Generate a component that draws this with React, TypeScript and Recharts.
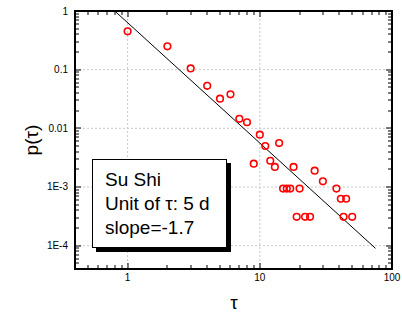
import { ReferenceLine, Scatter, ScatterChart, XAxis, YAxis } from 'recharts';

// waiting-time distribution, tau in units of 5 days
const tau = [1, 2, 3, 4, 5, 6, 7, 8, 9, 10, 11, 12, 13, 14, 15, 16, 17, 18, 19, 20, 22, 24, 26, 30, 38, 41, 43, 45, 50];
const prob = [
  0.45, 0.25, 0.105, 0.053, 0.032, 0.038, 0.0145, 0.0127, 0.0025, 0.0078, 0.005, 0.0028, 0.0022, 0.0056, 0.00094,
  0.00094, 0.00094, 0.0022, 0.00031, 0.00094, 0.00031, 0.00031, 0.0019, 0.00125, 0.00094, 0.00063, 0.00031, 0.00063,
  0.00031,
];

// fitted power law (drawn end to end)
const fitTau = [0.8, 75];
const fitProb = [1, 9e-5];

const xMajor = [1, 10, 100];
const xMajorLabels = ['1', '10', '100'];
const yMajor = [1e-4, 1e-3, 0.01, 0.1, 1];
const yMajorLabels = ['1E-4', '1E-3', '0.01', '0.1', '1'];

const X_DOMAIN: [number, number] = [0.4, 100];
const Y_DOMAIN: [number, number] = [4e-5, 1];

const FONT = '"Liberation Sans", Arial, sans-serif';
const W = 402;
const H = 315;
const Y_AXIS_W = 75;
const X_AXIS_H = 46;
const MARGIN = { top: 11, right: 10, bottom: 0, left: 0 };
// plot rectangle implied by the margins and axis sizes
const PX0 = MARGIN.left + Y_AXIS_W;
const PX1 = W - MARGIN.right;
const PY0 = MARGIN.top;
const PY1 = H - MARGIN.bottom - X_AXIS_H;

const points = tau.map((t, i) => ({ t, p: prob[i] }));
const fitLine = fitTau.map((t, i) => ({ t, p: fitProb[i] }));

function logTicks([lo, hi]: [number, number]) {
  const out: number[] = [];
  for (let e = -6; e <= 3; e++) {
    for (let m = 1; m < 10; m++) {
      const v = m * Math.pow(10, e);
      if (v >= lo * 0.999 && v <= hi * 1.001) out.push(v);
    }
  }
  return out;
}

const majorIndex = (v: number, majors: number[]) =>
  majors.findIndex((m) => Math.abs(Math.log10(m) - Math.log10(v)) < 1e-6);

const logPos = (v: number, [lo, hi]: [number, number], a: number, b: number) =>
  a + ((Math.log10(v) - Math.log10(lo)) / (Math.log10(hi) - Math.log10(lo))) * (b - a);

const XTick = (props: any) => {
  const { x, y, payload } = props;
  const idx = majorIndex(payload.value, xMajor);
  if (idx < 0) return <g />;
  return (
    <text x={x} y={y + 4} dy="0.75em" textAnchor="middle" fontSize={10} fill="#000" fontFamily={FONT}>
      {xMajorLabels[idx]}
    </text>
  );
};

const YTick = (props: any) => {
  const { x, y, payload } = props;
  const idx = majorIndex(payload.value, yMajor);
  if (idx < 0) return <g />;
  return (
    <text x={x - 7} y={y} dy="0.35em" textAnchor="end" fontSize={10} fill="#000" fontFamily={FONT}>
      {yMajorLabels[idx]}
    </text>
  );
};

// box frame and inward ticks on all four sides, drawn as filled bars
function renderFrame(xTicks: number[], yTicks: number[]) {
  const t = 2;
  return (
    <g>
      {xTicks.map((v) => {
        const x = Math.round(logPos(v, X_DOMAIN, PX0, PX1));
        const len = majorIndex(v, xMajor) >= 0 ? 6 : 4;
        return (
          <g key={`xt${v}`}>
            <rect x={x - 0.5} y={PY1 - len} width={1} height={len} fill="#000" />
            <rect x={x - 0.5} y={PY0} width={1} height={len} fill="#000" />
          </g>
        );
      })}
      {yTicks.map((v) => {
        const y = Math.round(logPos(v, Y_DOMAIN, PY1, PY0));
        const len = majorIndex(v, yMajor) >= 0 ? 6 : 4;
        return (
          <g key={`yt${v}`}>
            <rect x={PX0} y={y - 0.5} width={len} height={1} fill="#000" />
            <rect x={PX1 - len} y={y - 0.5} width={len} height={1} fill="#000" />
          </g>
        );
      })}
      <rect x={PX0 - 1} y={PY0 - 1} width={PX1 - PX0 + 2} height={t} fill="#000" />
      <rect x={PX0 - 1} y={PY1 - 1} width={PX1 - PX0 + 2} height={t} fill="#000" />
      <rect x={PX0 - 1} y={PY0 - 1} width={t} height={PY1 - PY0 + 2} fill="#000" />
      <rect x={PX1 - 1} y={PY0 - 1} width={t} height={PY1 - PY0 + 2} fill="#000" />
    </g>
  );
}

const RedCircle = (props: any) => (
  <circle cx={props.cx} cy={props.cy} r={3.3} fill="none" stroke="#ff0000" strokeWidth={1.6} />
);

export default function App() {
  const xTicks = logTicks(X_DOMAIN);
  const yTicks = logTicks(Y_DOMAIN);

  return (
    <div style={{ position: 'fixed', left: 0, top: 0, width: W, height: H, background: '#fff' }}>
      <ScatterChart width={W} height={H} margin={MARGIN}>
        <XAxis
          dataKey="t"
          type="number"
          scale="log"
          domain={X_DOMAIN}
          allowDataOverflow
          ticks={xTicks}
          interval={0}
          height={X_AXIS_H}
          tickSize={0}
          tickMargin={0}
          tickLine={false}
          axisLine={false}
          tick={XTick}
        />
        <YAxis
          dataKey="p"
          type="number"
          scale="log"
          domain={Y_DOMAIN}
          allowDataOverflow
          ticks={yTicks}
          interval={0}
          width={Y_AXIS_W}
          tickSize={0}
          tickMargin={0}
          tickLine={false}
          axisLine={false}
          tick={YTick}
        />
        {xMajor.slice(0, 2).map((v) => (
          <ReferenceLine key={`x${v}`} x={v} stroke="#c8c8c8" strokeDasharray="2 2" />
        ))}
        {yMajor.slice(0, 4).map((v) => (
          <ReferenceLine key={`y${v}`} y={v} stroke="#c8c8c8" strokeDasharray="2 2" />
        ))}
        <Scatter
          data={fitLine}
          line={{ stroke: '#000', strokeWidth: 1 }}
          lineType="joint"
          shape={() => <g />}
          isAnimationActive={false}
        />
        <Scatter data={points} shape={RedCircle} isAnimationActive={false} />
      </ScatterChart>
      <svg
        width={W}
        height={H}
        style={{ position: 'absolute', left: 0, top: 0, pointerEvents: 'none' }}
        fontFamily={FONT}
      >
        {renderFrame(xTicks, yTicks)}
        <text x={31} y={140} fontSize={19} textAnchor="middle" dy="0.35em" transform="rotate(-90 31 140)">
          p(τ)
        </text>
        <text x={234} y={302} fontSize={19} textAnchor="middle" dy="0.35em">
          τ
        </text>
        <rect x={96} y={163} width={135} height={89} fill="#000" />
        <rect x={92.5} y={159.5} width={134} height={88} fill="#fff" stroke="#000" strokeWidth={1} />
        <text x={105} y={186} fontSize={19}>Su Shi</text>
        <text x={105} y={210} fontSize={19}>Unit of τ: 5 d</text>
        <text x={105} y={234} fontSize={19}>slope=-1.7</text>
      </svg>
    </div>
  );
}
